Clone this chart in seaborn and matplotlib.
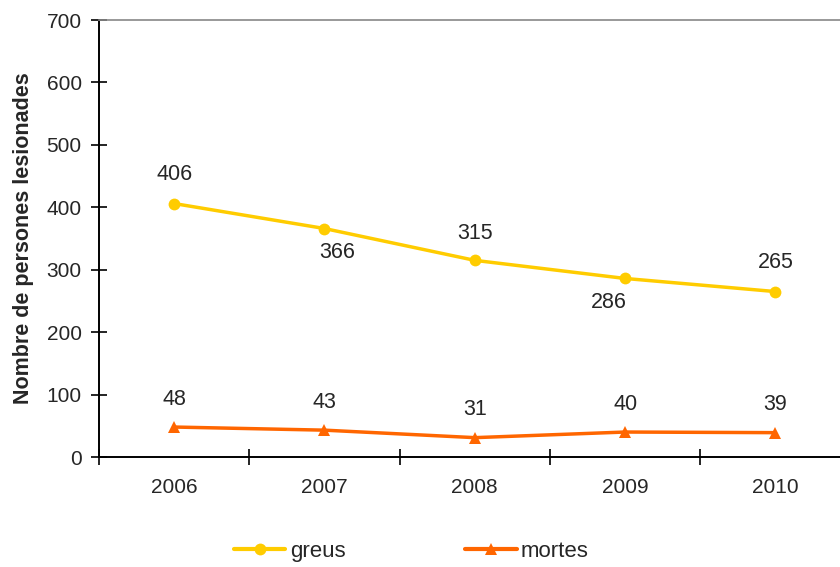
import seaborn as sns
import matplotlib.pyplot as plt
import pandas as pd

years = ['2006', '2007', '2008', '2009', '2010']
greus = [406, 366, 315, 286, 265]
mortes = [48, 43, 31, 40, 39]

sns.set_style('white')
plt.rcParams['font.family'] = ['Liberation Sans', 'DejaVu Sans']

df = pd.DataFrame({
    'pos': list(range(len(years))) * 2,
    'valor': greus + mortes,
    'serie': ['greus'] * len(years) + ['mortes'] * len(years),
})

fig = plt.figure(figsize=(8.4, 5.67), dpi=100)
ax = fig.add_axes([0.1179, 0.194, 0.8821, 0.7707])

colors = {'greus': '#FFCC00', 'mortes': '#FF6600'}
g = sns.lineplot(data=df, x='pos', y='valor', hue='serie', style='serie',
                 palette=colors, markers={'greus': 'o', 'mortes': '^'},
                 dashes=False, linewidth=2.5, markersize=8.5,
                 markeredgewidth=0, ax=ax)

# data labels (positions roughly like the Excel ones)
offs_g = [(0, 21), (9, -17), (0, 19), (-12, -17), (0, 21)]
for i, v in enumerate(greus):
    ax.annotate(str(v), (i, v), xytext=offs_g[i], textcoords='offset points',
                ha='center', va='center', fontsize=15.5)
for i, v in enumerate(mortes):
    ax.annotate(str(v), (i, v), xytext=(0, 20), textcoords='offset points',
                ha='center', va='center', fontsize=15.5)

ax.set_yticks(range(0, 701, 100))
ax.set_xticks([x - 0.5 for x in range(6)])
ax.set_xticklabels([])
ax.set_xticks(range(5), minor=True)
ax.set_xticklabels(years, minor=True)
ax.set_xlim(-0.5, 4.43)
ax.set_ylim(0, 700)
ax.tick_params(axis='x', which='major', bottom=True, direction='inout', length=11, width=1.2, color='black')
ax.tick_params(axis='x', which='minor', bottom=True, length=0, pad=15, labelsize=15)
ax.tick_params(axis='y', left=True, direction='inout', length=11, width=1.2, color='black', pad=7, labelsize=15)
ax.set_xlabel('')
ax.set_ylabel('Nombre de persones lesionades', fontsize=15.5, fontweight='bold', labelpad=9)

for s in ['left', 'bottom']:
    ax.spines[s].set_color('black')
    ax.spines[s].set_linewidth(1.4)
ax.spines['top'].set_color('#888888')
ax.spines['top'].set_linewidth(1.2)
ax.spines['right'].set_visible(False)

leg = ax.legend(loc='center', bbox_to_anchor=(0.49, 0.028), bbox_transform=fig.transFigure,
                ncol=2, frameon=False, fontsize=16, handlelength=2.3, columnspacing=5.4,
                handletextpad=0.2)
for ln in leg.get_lines():
    ln.set_linewidth(3)

fig.savefig('out.png', dpi=100)
